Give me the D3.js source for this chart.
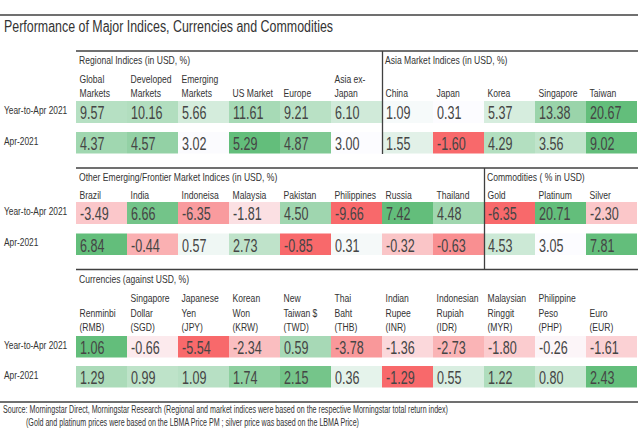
<!DOCTYPE html>
<html><head><meta charset="utf-8">
<script src="https://cdn.jsdelivr.net/npm/d3@7"></script>
<style>body{margin:0;background:#fff}svg{display:block}text{font-family:"Liberation Sans",Arial,sans-serif}</style>
</head><body><svg id="c" width="638" height="448"></svg>
<script>
// ---------- data ----------
const title = "Performance of Major Indices, Currencies and Commodities";
const periods = ["Year-to-Apr 2021", "Apr-2021"];
const regionalLabels = ["Global\nMarkets", "Developed\nMarkets", "Emerging\nMarkets", "US Market", "Europe", "Asia ex-\nJapan"];
const regionalYTD = [9.57, 10.16, 5.66, 11.61, 9.21, 6.10];
const regionalApr = [4.37, 4.57, 3.02, 5.29, 4.87, 3.00];
const asiaLabels = ["China", "Japan", "Korea", "Singapore", "Taiwan"];
const asiaYTD = [1.09, 0.31, 5.37, 13.38, 20.67];
const asiaApr = [1.55, -1.60, 4.29, 3.56, 9.02];
const emLabels = ["Brazil", "India", "Indoneisa", "Malaysia", "Pakistan", "Philippines", "Russia", "Thailand"];
const emYTD = [-3.49, 6.66, -6.35, -1.81, 4.50, -9.66, 7.42, 4.48];
const emApr = [6.84, -0.44, 0.57, 2.73, -0.85, 0.31, -0.32, -0.63];
const commLabels = ["Gold", "Platinum", "Silver"];
const commYTD = [-6.35, 20.71, -2.30];
const commApr = [4.53, 3.05, 7.81];
const fxLabels = ["Renminbi\n(RMB)", "Singapore\nDollar\n(SGD)", "Japanese\nYen\n(JPY)", "Korean\nWon\n(KRW)", "New\nTaiwan $\n(TWD)", "Thai\nBaht\n(THB)", "Indian\nRupee\n(INR)", "Indonesian\nRupiah\n(IDR)", "Malaysian\nRinggit\n(MYR)", "Philippine\nPeso\n(PHP)", "Euro\n(EUR)"];
const fxYTD = [1.06, -0.66, -5.54, -2.34, 0.59, -3.78, -1.36, -2.73, -1.80, -0.26, -1.61];
const fxApr = [1.29, 0.99, 1.09, 1.74, 2.15, 0.36, -1.29, 0.55, 1.22, 0.80, 2.43];
const headerTexts = ["Regional Indices (in USD, %)", "Asia Market Indices (in USD, %)", "Other Emerging/Frontier Market Indices (in USD, %)", "Commodities ( % in USD)", "Currencies (against USD, %)"];
const sourceLines = ["Source: Morningstar Direct, Morningstar Research (Regional and market indices were based on the respective Morningstar total return index)",
  "(Gold and platinum prices were based on the LBMA Price PM ; silver price was based on the LBMA Price)"];

// ---------- drawing ----------
const svg = d3.select("#c");
const RED = "#F8696B", WHITE = "#FCFCFF", GREEN = "#63BE7B";
const INK = "#454545", LINE = "#404040";
const fmt = v => d3.format(".2f")(v).replace("\u2212", "-");
function colorScale(vals) {
  const mn = d3.min(vals), mx = d3.max(vals);
  return mn < 0
    ? d3.scaleLinear().domain([mn, 0, mx]).range([RED, WHITE, GREEN]).interpolate(d3.interpolateRgb)
    : d3.scaleLinear().domain([mn, mx]).range([WHITE, GREEN]).interpolate(d3.interpolateRgb);
}
const x = d3.scaleBand().domain(d3.range(11)).range([76, 637]).paddingInner(0).paddingOuter(0);

function txt(g, tx, ty, s, size, sx, fill) {
  return g.append("text").attr("transform", `translate(${tx},${ty}) scale(${sx},1)`)
    .attr("font-size", size).attr("fill", fill || INK).text(s);
}
function hline(y, x1, x2, w) {
  svg.append("line").attr("x1", x1).attr("x2", x2).attr("y1", y).attr("y2", y)
    .attr("stroke", LINE).attr("stroke-width", w || 1.3);
}
function vline(xx, y1, y2) {
  svg.append("line").attr("x1", xx).attr("x2", xx).attr("y1", y1).attr("y2", y2)
    .attr("stroke", LINE).attr("stroke-width", 1.3);
}

// title
hline(15, 0, 638, 1.3);
svg.append("text").attr("x", 4).attr("y", 32).attr("font-size", 16).attr("fill", "#333")
  .attr("textLength", 329).attr("lengthAdjust", "spacingAndGlyphs").text(title);

const sections = [
  { lineY: 51, headerY: 64, headers: [[headerTexts[0], 0], [headerTexts[1], 6]],
    labels: regionalLabels.concat(asiaLabels), labelBase: 97, labelStep: 13.8,
    rows: [{ y: 101, h: 22, groups: [regionalYTD.concat(asiaYTD)] },
           { y: 132, h: 21.5, groups: [regionalApr, asiaApr] }],
    divider: 6, bottom: 154 },
  { lineY: 168, headerY: 180.5, headers: [[headerTexts[2], 0], [headerTexts[3], 8]],
    labels: emLabels.concat(commLabels), labelBase: 198.5, labelStep: 14,
    rows: [{ y: 202, h: 22, groups: [emYTD, commYTD] },
           { y: 233.5, h: 21.5, groups: [emApr, commApr] }],
    divider: 8, bottom: 269.5 },
  { lineY: 269.5, headerY: 282.5, headers: [[headerTexts[4], 0]],
    labels: fxLabels, labelBase: 331, labelStep: 14.5,
    rows: [{ y: 336, h: 21.5, groups: [fxYTD] },
           { y: 366, h: 21.5, groups: [fxApr] }],
    divider: null, bottom: null }
];

sections.forEach(sec => {
  const g = svg.append("g");
  sec.headers.forEach(([t, c]) => txt(g, x(c) + 3, sec.headerY, t, 11, 0.78, "#333"));
  sec.labels.forEach((lab, i) => {
    const lines = lab.split("\n");
    lines.forEach((ln, j) => {
      txt(g, x(i) + 3.5, sec.labelBase - (lines.length - 1 - j) * sec.labelStep, ln, 11, 0.78, "#333");
    });
  });
  sec.rows.forEach((row, ri) => {
    const cells = [];
    row.groups.forEach(vals => {
      const cs = colorScale(vals);
      vals.forEach(v => cells.push({ v, c: cs(v) }));
    });
    g.selectAll(null).data(cells).enter().append("rect")
      .attr("x", (d, i) => x(i)).attr("y", row.y)
      .attr("width", x.bandwidth()).attr("height", row.h)
      .attr("fill", d => d.c);
    cells.forEach((d, i) => txt(g, x(i) + 4, row.y + 18, fmt(d.v), 18.5, 0.68, INK));
    txt(g, 4, row.y + 12.5, periods[ri], 11, 0.76, "#333");
  });
  hline(sec.lineY, 76, 638);
  if (sec.divider !== null) vline(x(sec.divider) + 0.5, sec.lineY, sec.bottom);
});

hline(402, 0, 638, 1.3);
svg.append("text").attr("x", 3).attr("y", 413).attr("font-size", 10).attr("fill", "#333")
  .attr("textLength", 445).attr("lengthAdjust", "spacingAndGlyphs").text(sourceLines[0]);
svg.append("text").attr("x", 26).attr("y", 426).attr("font-size", 10).attr("fill", "#333")
  .attr("textLength", 333).attr("lengthAdjust", "spacingAndGlyphs").text(sourceLines[1]);
</script>
</body></html>
